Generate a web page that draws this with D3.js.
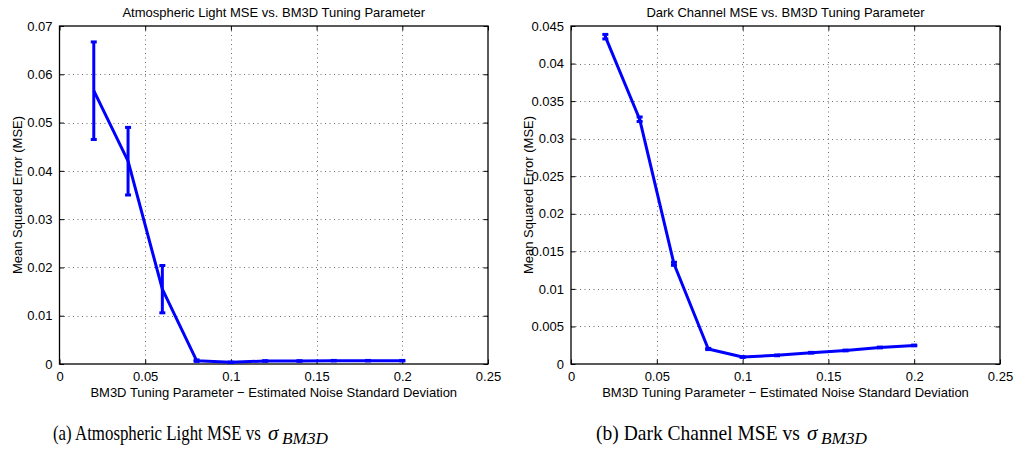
<!DOCTYPE html>
<html>
<head>
<meta charset="utf-8">
<script src="https://cdn.jsdelivr.net/npm/d3@7"></script>
<style>
  html, body { margin: 0; padding: 0; background: #fff; }
  svg { display: block; }
  .tick-label, .ax-title, .plot-title { font-family: "Liberation Sans", Arial, sans-serif; fill: #000; }
  .caption { font-family: "Liberation Serif", "DejaVu Serif", serif; fill: #000; }
</style>
</head>
<body>
<svg id="fig" width="1017" height="460"></svg>
<script>
// BM3D tuning parameter (estimated noise standard deviation)
const sigma = [0.02, 0.04, 0.06, 0.08, 0.10, 0.12, 0.14, 0.16, 0.18, 0.20];

// Atmospheric light MSE: mean and half-width of error bar
const atmMean = [0.0566, 0.0420, 0.0155, 0.00069, 0.00035, 0.00062, 0.00062, 0.00069, 0.00069, 0.00069];
const atmErr  = [0.0101, 0.0070, 0.0049, 0.00015, 0.00005, 0.00005, 0.00005, 0.00005, 0.00005, 0.00005];

// Dark channel MSE: mean and half-width of error bar
const dcMean = [0.04358, 0.03259, 0.01334, 0.0020, 0.00093, 0.00115, 0.0015, 0.0018, 0.0022, 0.00247];
const dcErr  = [0.00030, 0.00030, 0.00020, 0.00008, 0.00005, 0.00005, 0.00005, 0.00005, 0.00005, 0.00005];

// Tick values
const xTicks = [0, 0.05, 0.1, 0.15, 0.2, 0.25];
const atmYTicks = [0, 0.01, 0.02, 0.03, 0.04, 0.05, 0.06, 0.07];
const dcYTicks = [0, 0.005, 0.01, 0.015, 0.02, 0.025, 0.03, 0.035, 0.04, 0.045];

// Text
const atmTitle = "Atmospheric Light MSE vs. BM3D Tuning Parameter";
const dcTitle = "Dark Channel MSE vs. BM3D Tuning Parameter";
const xLabel = "BM3D Tuning Parameter \u2212 Estimated Noise Standard Deviation";
const yLabel = "Mean Squared Error (MSE)";

const svg = d3.select("#fig");
svg.append("rect").attr("width", 1017).attr("height", 460).attr("fill", "#fff");

const fmt = d3.format("~g");
const lineColor = "#0000ff";

// Place a text horizontally squeezed to a given width
function condensedText(g, str, x0, y0, width, size, italic) {
  const t = g.append("text").attr("class", "caption")
    .style("font-size", size + "px").style("font-style", italic ? "italic" : "normal").text(str);
  const natural = t.node().getComputedTextLength();
  const k = width / natural;
  t.attr("transform", `translate(${x0},${y0}) scale(${k},1)`);
  return t;
}

function drawPanel(opts) {
  const { left, right, top, bottom, yMax, yTicks, mean, err, title, caption, captionX, captionW } = opts;
  const g = svg.append("g");
  const x = d3.scaleLinear().domain([0, 0.25]).range([left, right]);
  const y = d3.scaleLinear().domain([0, yMax]).range([bottom, top]);
  const tickLen = 4.5;

  // dotted grid
  const grid = g.append("g").attr("stroke", "#6e6e6e").attr("stroke-width", 1)
    .attr("stroke-dasharray", "1,3.5");
  grid.selectAll(".gx").data(xTicks.slice(1, -1)).join("line")
    .attr("x1", d => Math.round(x(d)) + 0.5).attr("x2", d => Math.round(x(d)) + 0.5)
    .attr("y1", top).attr("y2", bottom);
  grid.selectAll(".gy").data(yTicks.slice(1, -1)).join("line")
    .attr("y1", d => Math.round(y(d)) + 0.5).attr("y2", d => Math.round(y(d)) + 0.5)
    .attr("x1", left).attr("x2", right);

  // axes with inward ticks on all four sides
  const axB = d3.axisBottom(x).tickValues(xTicks).tickFormat(fmt).tickSizeInner(-tickLen).tickSizeOuter(0).tickPadding(8);
  const axT = d3.axisTop(x).tickValues(xTicks).tickFormat("").tickSizeInner(-tickLen).tickSizeOuter(0);
  const axL = d3.axisLeft(y).tickValues(yTicks).tickFormat(fmt).tickSizeInner(-tickLen).tickSizeOuter(0).tickPadding(7);
  const axR = d3.axisRight(y).tickValues(yTicks).tickFormat("").tickSizeInner(-tickLen).tickSizeOuter(0);

  const styleAxis = sel => {
    sel.select(".domain").remove();
    sel.selectAll("line").attr("stroke", "#000").attr("stroke-width", 1);
    sel.selectAll("text").attr("class", "tick-label").style("font-size", "13px")
      .style("font-family", "'Liberation Sans', Arial, sans-serif");
  };
  g.append("g").attr("transform", `translate(0,${bottom})`).call(axB).call(styleAxis);
  g.append("g").attr("transform", `translate(0,${top})`).call(axT).call(styleAxis);
  g.append("g").attr("transform", `translate(${left},0)`).call(axL).call(styleAxis);
  g.append("g").attr("transform", `translate(${right},0)`).call(axR).call(styleAxis);

  // box
  g.append("rect").attr("x", left).attr("y", top).attr("width", right - left).attr("height", bottom - top)
    .attr("fill", "none").attr("stroke", "#000").attr("stroke-width", 1.3);

  // data line
  const pts = sigma.map((s, i) => [s, mean[i], err[i]]);
  g.append("path").datum(pts)
    .attr("fill", "none").attr("stroke", lineColor).attr("stroke-width", 3).attr("stroke-linejoin", "round")
    .attr("d", d3.line().x(d => x(d[0])).y(d => y(d[1])));

  // error bars
  const eb = g.append("g").attr("stroke", lineColor).attr("stroke-width", 3);
  const cap = 3;
  eb.selectAll(".v").data(pts).join("line")
    .attr("x1", d => x(d[0])).attr("x2", d => x(d[0]))
    .attr("y1", d => y(d[1] - d[2])).attr("y2", d => y(d[1] + d[2]));
  eb.selectAll(".t").data(pts).join("line")
    .attr("x1", d => x(d[0]) - cap).attr("x2", d => x(d[0]) + cap)
    .attr("y1", d => y(d[1] + d[2])).attr("y2", d => y(d[1] + d[2]));
  eb.selectAll(".b").data(pts).join("line")
    .attr("x1", d => x(d[0]) - cap).attr("x2", d => x(d[0]) + cap)
    .attr("y1", d => y(d[1] - d[2])).attr("y2", d => y(d[1] - d[2]));

  // titles
  const cx = (left + right) / 2;
  g.append("text").attr("class", "plot-title").attr("x", cx).attr("y", 16.5)
    .attr("text-anchor", "middle").style("font-size", "13px").text(title);
  g.append("text").attr("class", "ax-title").attr("x", cx).attr("y", 396.5)
    .attr("text-anchor", "middle").style("font-size", "13px").text(xLabel);
  g.append("text").attr("class", "ax-title")
    .attr("transform", `translate(${left - 38},${(top + bottom) / 2}) rotate(-90)`)
    .attr("text-anchor", "middle").style("font-size", "13px").text(yLabel);

  // caption below the panel: condensed serif text followed by sigma with subscript
  const base = 440;
  condensedText(g, caption + " vs", captionX, base, captionW, 21, false);
  const sx = captionX + captionW + 7;
  g.append("text").attr("class", "caption").attr("x", sx).attr("y", base)
    .style("font-size", "21px").style("font-style", "italic").text("\u03C3");
  condensedText(g, "BM3D", sx + 14, base + 4, 46, 17, true);
}

drawPanel({
  left: 59.5, right: 488, top: 26, bottom: 364,
  yMax: 0.07, yTicks: atmYTicks, mean: atmMean, err: atmErr,
  title: atmTitle, caption: "(a) Atmospheric Light MSE", captionX: 53, captionW: 208
});

drawPanel({
  left: 571, right: 1000, top: 26, bottom: 364,
  yMax: 0.045, yTicks: dcYTicks, mean: dcMean, err: dcErr,
  title: dcTitle, caption: "(b) Dark Channel MSE", captionX: 596, captionW: 204
});
</script>
</body>
</html>
